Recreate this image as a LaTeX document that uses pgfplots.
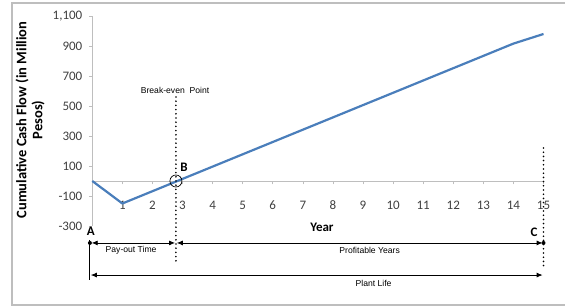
\documentclass[border=0pt]{standalone}
\usepackage{fontspec}
\setmainfont{Carlito}
\newfontfamily\arial{Liberation Sans}
\usepackage{pgfplots}
\pgfplotsset{compat=1.18}
\usetikzlibrary{arrows.meta}
\definecolor{lineblue}{RGB}{74,126,187}
\definecolor{axgray}{RGB}{190,190,190}
\begin{document}
\begin{tikzpicture}
\useasboundingbox (0,0) rectangle (565pt,307pt);
\draw[axgray, line width=1.2pt] (12pt,2pt) rectangle (570pt,304pt);
\begin{axis}[
  at={(92.3pt,81pt)}, anchor=south west,
  scale only axis, width=451.2pt, height=210pt,
  xmin=0, xmax=15, ymin=-300, ymax=1100,
  axis x line*=middle, axis y line*=left,
  axis line style={axgray, line width=0.8pt},
  clip=false,
  xtick={0,1,...,15},
  xticklabels={0,1,2,3,4,5,6,7,8,9,10,11,12,13,14,15},
  ytick={-300,-100,100,300,500,700,900,1100},
  yticklabels={{-300},{-100},{100},{300},{500},{700},{900},{1,100}},
  tick align=outside,
  major tick length=3.5pt,
  tick style={axgray, line width=0.6pt},
  tick label style={font=\fontsize{13}{14}\selectfont, text=black!75},
  xticklabel style={yshift=-13pt},
  yticklabel style={xshift=-3pt},
  xlabel={\textbf{Year}},
  xlabel style={at={(axis description cs:0.509,-0.005)}, anchor=center, font=\fontsize{13}{14}\selectfont},
  ylabel={\textbf{Cumulative Cash Flow (in Million}\\\textbf{Pesos)}},
  ylabel style={at={(axis description cs:-0.138,0.505)}, anchor=center, align=center, font=\fontsize{14.5}{16}\selectfont},
]
\addplot[lineblue, line width=2.2pt, line join=round] coordinates {
(0,0) (1,-150) (2,-68) (3,14) (4,96) (5,178) (6,260) (7,342) (8,424) (9,506) (10,588) (11,670) (12,752) (13,834) (14,916) (15,980)
};
% break-even dotted line
\draw[line width=1.8pt, dash pattern=on 0pt off 4.2pt, line cap=round] (axis cs:2.78,560) -- (axis cs:2.78,-540);
\draw[line width=1.8pt, dash pattern=on 0pt off 4.2pt, line cap=round] (axis cs:15,220) -- (axis cs:15,-580);
\node[font=\arial\fontsize{8.6}{10}\selectfont] at (axis cs:2.75,607) {Break-even\ \ Point};
\draw[black, line width=0.7pt] (axis cs:2.78,0) circle (6pt);
\node[font=\fontsize{13}{14}\selectfont\bfseries] at (axis cs:3.05,93) {B};
% A
\fill (axis cs:-0.08,-413) circle (2pt);
\node[font=\fontsize{13}{14}\selectfont\bfseries] at (axis cs:-0.05,-333) {A};
\draw[line width=0.8pt] (axis cs:-0.08,-393) -- (axis cs:-0.08,-660);
% C
\node[font=\fontsize{13}{14}\selectfont\bfseries] at (axis cs:14.69,-340) {C};
\fill (axis cs:15,-413) circle (2pt);
% arrows row 1
\draw[line width=0.8pt, {Latex[length=6pt,width=5pt]}-{Latex[length=6pt,width=5pt]}] (axis cs:-0.02,-413) -- (axis cs:2.75,-413);
\draw[line width=0.8pt, {Latex[length=6pt,width=5pt]}-{Latex[length=6pt,width=5pt]}] (axis cs:2.81,-413) -- (axis cs:14.97,-413);
\node[font=\arial\fontsize{8.6}{10}\selectfont] at (axis cs:1.29,-460) {Pay-out Time};
\node[font=\arial\fontsize{8.6}{10}\selectfont] at (axis cs:9.22,-465) {Profitable Years};
% row 2
\draw[line width=0.8pt, {Latex[length=6pt,width=5pt]}-{Latex[length=6pt,width=5pt]}] (axis cs:-0.05,-627) -- (axis cs:14.97,-627);
\node[font=\arial\fontsize{8.6}{10}\selectfont] at (axis cs:9.35,-680) {Plant Life};
\end{axis}
\end{tikzpicture}
\end{document}
